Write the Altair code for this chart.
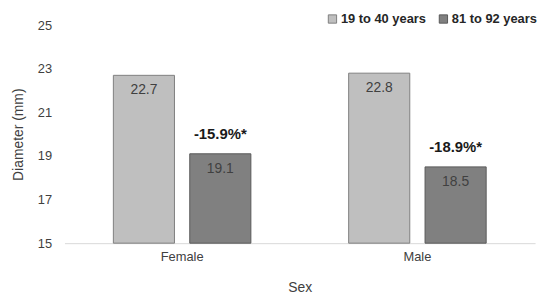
import altair as alt
import pandas as pd

sexes = ["Female", "Female", "Male", "Male"]
groups = ["19 to 40 years", "81 to 92 years", "19 to 40 years", "81 to 92 years"]
values = [22.7, 19.1, 22.8, 18.5]
changes = ["", "-15.9%*", "", "-18.9%*"]

df = pd.DataFrame({"Sex": sexes, "Group": groups, "Diameter": values, "Change": changes})

FONT = "Liberation Sans"
x = alt.X("Sex:N", title="Sex", sort=["Female", "Male"],
          scale=alt.Scale(paddingInner=0, paddingOuter=0),
          axis=alt.Axis(labelAngle=0, ticks=False, domainColor="#d9d9d9", labelFontSize=13,
                        labelColor="#404040", labelPadding=8, titleFontSize=14,
                        titleFontWeight="normal", titleColor="#404040", titlePadding=17,
                        labelFont=FONT, titleFont=FONT))
xo = alt.XOffset("Group:N", sort=["19 to 40 years", "81 to 92 years"],
                 scale=alt.Scale(paddingInner=0.2, paddingOuter=0.64))
yscale = alt.Scale(domain=[15, 25], zero=False, nice=False)

bars = alt.Chart(df).mark_bar(strokeWidth=1).encode(
    x=x, xOffset=xo,
    y=alt.Y("Diameter:Q", scale=yscale, title="Diameter (mm)",
            axis=alt.Axis(values=[15, 17, 19, 21, 23, 25], grid=False, domain=False, ticks=False,
                          labelFontSize=13, labelColor="#404040", labelPadding=13,
                          titleFontSize=14, titleFontWeight="normal", titleColor="#404040",
                          titlePadding=12, labelFont=FONT, titleFont=FONT)),
    y2=alt.datum(15),
    color=alt.Color("Group:N", sort=["19 to 40 years", "81 to 92 years"],
                    scale=alt.Scale(domain=["19 to 40 years", "81 to 92 years"],
                                    range=["#bfbfbf", "#808080"]),
                    legend=alt.Legend(title=None, orient="none", direction="horizontal",
                                      legendX=264, legendY=-13, symbolType="square",
                                      symbolSize=70, symbolStrokeColor="#595959",
                                      symbolStrokeWidth=1, labelFontSize=13,
                                      labelFontWeight="bold", labelColor="#262626",
                                      labelFont=FONT, columnPadding=10, symbolOffset=0,
                                      labelOffset=2, labelLimit=200)),
    stroke=alt.Stroke("Group:N", scale=alt.Scale(domain=["19 to 40 years", "81 to 92 years"],
                                                  range=["#7f7f7f", "#595959"]), legend=None),
)

vals = alt.Chart(df).mark_text(baseline="top", dy=8, fontSize=14, color="#404040", font=FONT).encode(
    x=x, xOffset=xo, y=alt.Y("Diameter:Q", scale=yscale),
    text=alt.Text("Diameter:Q", format=".1f"),
)

pct = alt.Chart(df).transform_filter("datum.Change != ''").mark_text(
    baseline="bottom", dy=-12, fontSize=15, fontWeight="bold", color="#1a1a1a", font=FONT).encode(
    x=x, xOffset=xo, y=alt.Y("Diameter:Q", scale=yscale),
    text="Change:N",
)

chart = alt.layer(bars, vals, pct).properties(
    width=475, height=220,
    autosize=alt.AutoSizeParams(type="none"),
    padding={"left": 57, "top": 16, "right": 6, "bottom": 56},
).configure_view(stroke=None)

chart.save("out.html", embed_options={"renderer": "svg", "actions": False})
